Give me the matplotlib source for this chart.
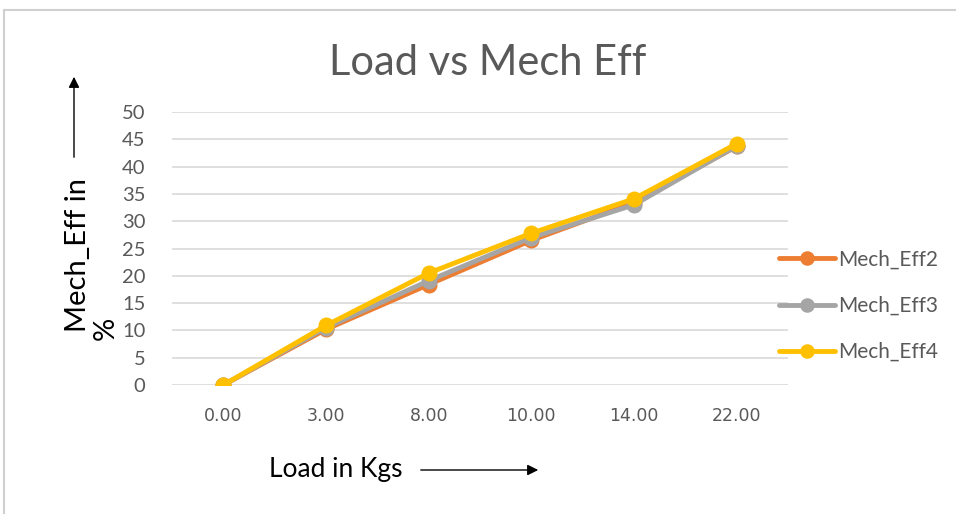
import matplotlib
matplotlib.use("Agg")
import matplotlib.pyplot as plt
from matplotlib.patches import FancyArrowPatch

# data
loads = ["0.00", "3.00", "8.00", "10.00", "14.00", "22.00"]
mech_eff2 = [0, 10.2, 18.4, 26.5, 33.4, 43.7]
mech_eff3 = [0, 10.5, 19.1, 27.0, 33.0, 43.8]
mech_eff4 = [0, 10.9, 20.5, 27.8, 34.1, 44.2]
series_names = ["Mech_Eff2", "Mech_Eff3", "Mech_Eff4"]
colors = ["#ED7D31", "#A5A5A5", "#FFC000"]
yticks = list(range(0, 51, 5))

W, H = 956, 514
fig = plt.figure(figsize=(W / 100, H / 100), dpi=100)
fig.patch.set_facecolor("white")

# chart border (top and left lines visible in the screenshot)
fig.add_artist(plt.Line2D([4 / W, 1], [1 - 10 / H, 1 - 10 / H], color="#D0D0D0", lw=1.5))
fig.add_artist(plt.Line2D([4 / W, 4 / W], [0, 1 - 10 / H], color="#D0D0D0", lw=1.5))

ax = fig.add_axes([172 / W, 1 - 385 / H, (788 - 172) / W, (385 - 112) / H])
x = list(range(len(loads)))
for vals, name, c in zip([mech_eff2, mech_eff3, mech_eff4], series_names, colors):
    ax.plot(x, vals, color=c, lw=3.5, marker="o", markersize=10.5, label=name,
            solid_capstyle="round", zorder=3)

ax.set_xlim(-0.5, len(loads) - 0.5)
ax.set_ylim(0, 50)
ax.set_yticks(yticks)
ax.set_xticks(x)
ax.set_xticklabels(loads, fontsize=12.5, color="#595959", family="DejaVu Sans")
ax.set_yticklabels([str(v) for v in yticks], fontsize=14.5, color="#595959", family="Lato")
ax.tick_params(length=0)
ax.tick_params(axis="x", pad=16)
ax.tick_params(axis="y", pad=19)
ax.grid(axis="y", color="#D9D9D9", lw=1.2)
ax.set_axisbelow(True)
for s in ax.spines.values():
    s.set_visible(False)
ax.patch.set_alpha(0)

fig.text(488 / W, 1 - 63 / H, "Load vs Mech Eff", ha="center", va="center",
         fontsize=30, color="#595959", family="Lato")

# legend at the right
leg = ax.legend(loc="center left", bbox_to_anchor=(0.955, 0.29), frameon=False,
                prop={"family": "Lato", "size": 15}, labelcolor="#595959",
                handlelength=2.7, handletextpad=0.15, labelspacing=1.25,
                markerscale=0.9)

# y axis title (wrapped in two lines in the original) with arrow
fig.text(78 / W, 1 - 255 / H, "Mech_Eff in", rotation=90, ha="center", va="center",
         fontsize=21, color="black", family="Lato")
fig.text(106 / W, 1 - 328 / H, "%", rotation=90, ha="center", va="center",
         fontsize=21, color="black", family="Lato")
fig.add_artist(FancyArrowPatch(
    (74 / W, 1 - 160 / H), (74 / W, 1 - 74 / H), transform=fig.transFigure,
    arrowstyle="-|>", mutation_scale=16, color="black", lw=1))

# x axis title with arrow
fig.text(336 / W, 1 - 470 / H, "Load in Kgs", ha="center", va="center",
         fontsize=19, color="black", family="Lato")
fig.add_artist(FancyArrowPatch(
    (418 / W, 1 - 470 / H), (541 / W, 1 - 470 / H), transform=fig.transFigure,
    arrowstyle="-|>", mutation_scale=16, color="black", lw=1))

fig.savefig("out.png", dpi=100)
